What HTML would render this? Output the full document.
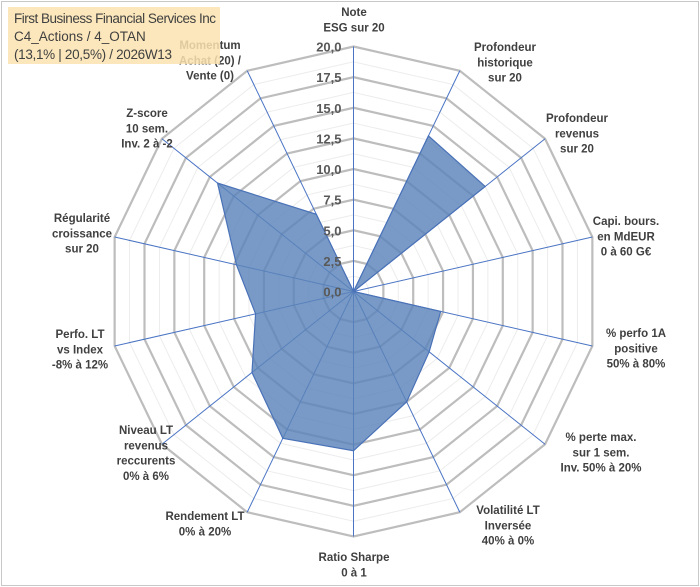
<!DOCTYPE html>
<html><head><meta charset="utf-8"><style>
html,body{margin:0;padding:0;background:#fff}
svg{display:block;font-family:"Liberation Sans",sans-serif}
.lbl{font-size:11.5px;font-weight:bold;fill:#404040}
</style></head><body>
<svg id="chart" width="700" height="587" viewBox="0 0 700 587">
<rect x="1.5" y="1.5" width="697" height="584" fill="#fff" stroke="#c8c8c8" stroke-width="1"/>
<g id="grid"></g>
<g id="series"></g>
<g id="ticks"></g>
<g id="labels"></g>
<g>
<rect x="8" y="7" width="212" height="57" fill="#fbe3b0" fill-opacity="0.85"/>
<text x="14" y="23" font-size="13.5" fill="#404040" textLength="202">First Business Financial Services Inc</text>
<text x="14" y="41" font-size="13.5" fill="#404040">C4_Actions / 4_OTAN</text>
<text x="14" y="59" font-size="13.5" fill="#404040" textLength="158">(13,1% | 20,5%) / 2026W13</text>
</g>
</svg>
<script>
const categories=["Note|ESG sur 20","Profondeur|historique|sur 20","Profondeur|revenus|sur 20","Capi. bours.|en MdEUR|0 à 60 G€","% perfo 1A|positive|50% à 80%","% perte max.|sur 1 sem.|Inv. 50% à 20%","Volatilité LT|Inversée|40% à 0%","Ratio Sharpe|0 à 1","Rendement LT|0% à 20%","Niveau LT|revenus|reccurents|0% à 6%","Perfo. LT|vs Index|-8% à 12%","Régularité|croissance|sur 20","Z-score|10 sem.|Inv. 2 à -2","Momentum|Achat (20) /|Vente (0)"];
const values=[0,14.1,13.75,0,7.3,7.9,10.0,13.0,13.3,10.6,8.2,9.8,14.2,7.0];
const tickLabels=["0,0","2,5","5,0","7,5","10,0","12,5","15,0","17,5","20,0"];
const labelPos=[[354,12],[505,47],[577,118],[626,221],[636,333],[601,437],[508,510],[354,557],[205,516],[146,430],[80,334],[82,218],[147,113],[210,45]];
const NS="http://www.w3.org/2000/svg";
const cx=353.5,cy=291.5,R=245,maxV=20,N=categories.length;
function ang(i){return i*2*Math.PI/N;}
function pt(i,v){const r=v/maxV*R;return [cx+r*Math.sin(ang(i)),cy-r*Math.cos(ang(i))];}
function mk(t,a,p){const e=document.createElementNS(NS,t);for(const k in a)e.setAttribute(k,a[k]);p.appendChild(e);return e;}
const grid=document.getElementById('grid');
for(let k=1;k<=16;k++){const v=k*1.25;const pts=categories.map((c,i)=>pt(i,v).join(',')).join(' ');
const el=mk('polygon',{points:pts,fill:'none',stroke:k%2?'#ececec':'#bdbdbd','stroke-width':k%2?1:2.2},grid);

}
categories.forEach((c,i)=>{const p=pt(i,maxV);const el=mk('line',{x1:cx,y1:cy,x2:p[0],y2:p[1],stroke:'#4a74c4','stroke-width':1},grid);

});
const ser=document.getElementById('series');
const poly=mk('polygon',{points:values.map((v,i)=>pt(i,v).join(',')).join(' '),fill:'#5b84b9','fill-opacity':0.82,stroke:'#4a72b8','stroke-width':1.2},ser);


const tk=document.getElementById('ticks');
tickLabels.forEach((t,k)=>{const y=cy-k*2.5/maxV*R;const el=mk('text',{x:cx-12,y:y+5,'text-anchor':'end','font-size':13,'font-weight':'bold',fill:'#595959'},tk);el.textContent=t;

});
const lb=document.getElementById('labels');
categories.forEach((c,i)=>{const [x,y]=labelPos[i];const el=mk('text',{class:'lbl','text-anchor':'middle'},lb);


c.split('|').forEach((s,j)=>{const ts=mk('tspan',{x:x,y:y+4+j*15.3},el);ts.textContent=s;});});
</script>
</body></html>
